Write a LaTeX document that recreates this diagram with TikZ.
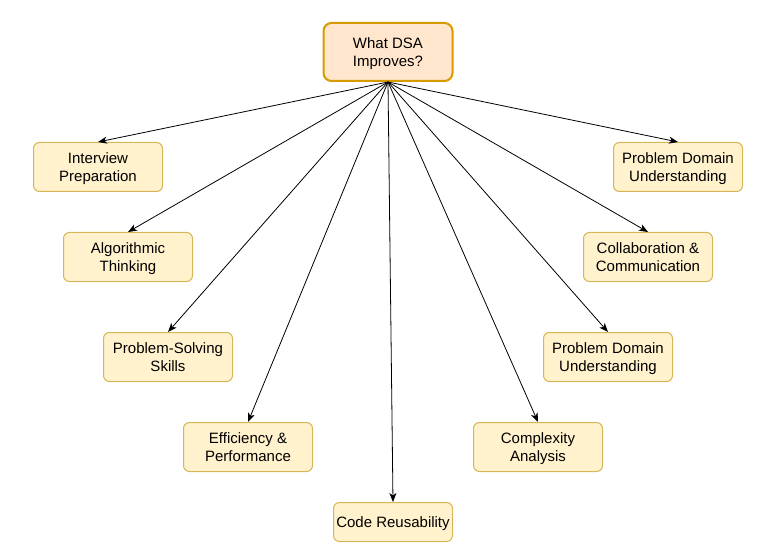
\documentclass[tikz,border=0pt]{standalone}
\usepackage{fontspec}
\setmainfont{Liberation Sans}
\usetikzlibrary{arrows.meta}
\definecolor{rootfill}{HTML}{FFE6CC}
\definecolor{rootline}{HTML}{D79B00}
\definecolor{leaffill}{HTML}{FFF2CC}
\definecolor{leafline}{HTML}{D6B656}
\begin{document}
\begin{tikzpicture}[x=1pt, y=-1pt,
    rootbox/.style={draw=rootline, fill=rootfill, line width=2pt, rounded corners=8pt,
        minimum width=129pt, minimum height=58pt, align=center, inner sep=0pt},
    leafbox/.style={draw=leafline, fill=leaffill, line width=1pt, rounded corners=6pt,
        minimum width=129pt, minimum height=49pt, align=center, inner sep=0pt},
    link/.style={-{Stealth[length=9pt, width=7pt, inset=2.5pt]}, line width=0.8pt},
    every node/.style={font=\fontsize{15pt}{18pt}\selectfont, text depth=0pt}]
    \useasboundingbox (0,0) rectangle (780,559);
    \node[rootbox] (dsa) at (388,52) {What DSA\\Improves?};
    \node[leafbox] (interview) at (98,167) {Interview\\Preparation};
    \node[leafbox] (algo) at (128,257) {Algorithmic\\Thinking};
    \node[leafbox] (solving) at (168,357) {Problem-Solving\\Skills};
    \node[leafbox] (effic) at (248,447) {Efficiency \&\\Performance};
    \node[leafbox, minimum width=119pt, minimum height=39pt] (reuse) at (393,522) {Code Reusability};
    \node[leafbox] (complex) at (538,447) {Complexity\\Analysis};
    \node[leafbox] (domainlow) at (608,357) {Problem Domain\\Understanding};
    \node[leafbox] (collab) at (648,257) {Collaboration \&\\Communication};
    \node[leafbox] (domaintop) at (678,167) {Problem Domain\\Understanding};
    \foreach \target in {interview, algo, solving, effic, reuse, complex, domainlow, collab, domaintop}
        \draw[link] (dsa.south) -- (\target.north);
\end{tikzpicture}
\end{document}
